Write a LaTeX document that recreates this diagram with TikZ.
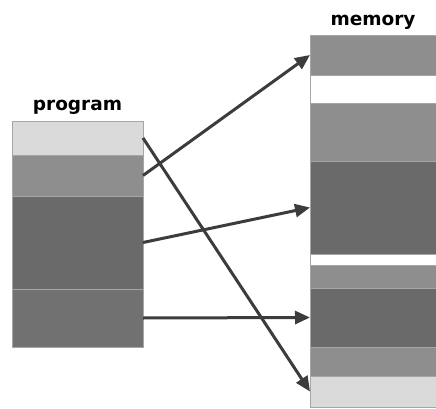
\documentclass[tikz,border=0pt]{standalone}
\usepackage{fontspec}
\newfontfamily\labelfont{DejaVu Sans}
\usepackage{tikz}
\usepackage{xcolor}
\usetikzlibrary{arrows.meta, positioning}
\definecolor{seglight}{HTML}{DADADA}
\definecolor{segmid}{HTML}{8E8E8E}
\definecolor{segdark}{HTML}{6A6A6A}
\definecolor{segdarker}{HTML}{717171}
\definecolor{arrowgray}{HTML}{3C3C3C}
\tikzset{
  band/.style={rectangle, draw=gray!70, line width=0.5pt, inner sep=0pt,
               outer sep=0pt, minimum width=131pt},
  memband/.style={band, minimum width=126pt},
  blocklabel/.style={font=\labelfont\bfseries\fontsize{18.5}{18.5}\selectfont,
                     inner sep=0pt, anchor=base},
  arrow/.style={-{Triangle[length=15pt, width=13pt]}, line width=3pt,
                draw=arrowgray},
}

\begin{document}
\begin{tikzpicture}[x=1pt, y=-1pt]
  \useasboundingbox (0,0) rectangle (436,409);

  % Program segments
  \node[band, fill=seglight, minimum height=34pt, anchor=north west] (p1) at (12,121) {};
  \node[band, fill=segmid, minimum height=41pt, below=0pt of p1] (p2) {};
  \node[band, fill=segdark, minimum height=93pt, below=0pt of p2] (p3) {};
  \node[band, fill=segdarker, minimum height=58pt, below=0pt of p3] (p4) {};

  \node[blocklabel, above=10pt of p1.north, anchor=base] (proglbl) {program};

  % Memory segments
  \node[memband, fill=segmid, minimum height=40pt, anchor=north west] (m1) at (310,35) {};
  \node[memband, fill=white, minimum height=28pt, below=0pt of m1] (m2) {};
  \node[memband, fill=segmid, minimum height=58pt, below=0pt of m2] (m3) {};
  \node[memband, fill=segdark, minimum height=93pt, below=0pt of m3] (m4) {};
  \node[memband, fill=white, minimum height=11pt, below=0pt of m4] (m5) {};
  \node[memband, fill=segmid, minimum height=23pt, below=0pt of m5] (m6) {};
  \node[memband, fill=segdark, minimum height=59pt, below=0pt of m6] (m7) {};
  \node[memband, fill=segmid, minimum height=29pt, below=0pt of m7] (m8) {};
  \node[memband, fill=seglight, minimum height=31pt, below=0pt of m8] (m9) {};

  \node[blocklabel, above=9pt of m1.north, anchor=base] (memlbl) {memory};

  % Mapping arrows
  \draw[arrow] (p2.east) -- (m1.west);
  \draw[arrow] (p1.east) -- (m9.west);
  \draw[arrow] (p3.east) -- (m4.west);
  \draw[arrow] (p4.east) -- (m7.west);
\end{tikzpicture}
\end{document}
